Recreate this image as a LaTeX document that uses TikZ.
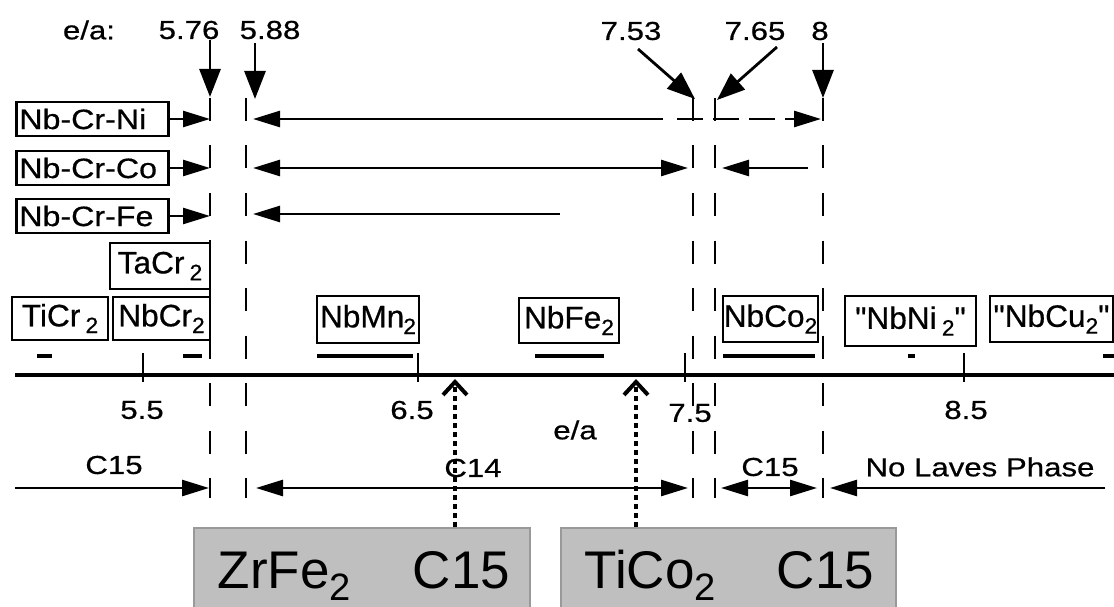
\documentclass[tikz,border=0pt]{standalone}
\usepackage{fontspec}
\setmainfont{Liberation Sans}
\newfontfamily\labfont[FakeStretch=1.2,FakeBold=0.6]{Liberation Sans}
\newfontfamily\rowfont[FakeStretch=1.15,FakeBold=0.6]{Liberation Sans}
\newfontfamily\cpdfont[FakeStretch=1.02,FakeBold=0.6]{Liberation Sans}
\usepackage{graphicx}
\usetikzlibrary{arrows.meta}
\newcommand{\subx}[1]{\raisebox{-0.22em}{\scalebox{0.72}{#1}}}
\begin{document}
\begin{tikzpicture}[x=1pt,y=-1pt,
  >={Triangle[length=27pt,width=16pt]},
  lbl/.style={font=\labfont\fontsize{26}{26}\selectfont, inner sep=0pt},
  rowbox/.style={draw, line width=2.6pt, font=\rowfont\fontsize{28}{28}\selectfont, inner xsep=3pt, inner ysep=0pt, minimum height=34pt, anchor=west},
  cpd/.style={draw, line width=2.6pt, font=\cpdfont\fontsize{31}{31}\selectfont, inner sep=0pt},
  vdash/.style={line width=2.8pt, dash pattern=on 23pt off 24.5pt},
  shaft/.style={line width=2.6pt},
  bigarrow/.style={line width=2.8pt, -{Triangle[length=28pt,width=21pt]}},
  bar/.style={line width=4.5pt},
  dotx/.style={line width=4pt, dash pattern=on 5pt off 4pt, -{Straight Barb[length=13pt,width=24pt]}},
  graybox/.style={fill=black!25, draw=black!40, line width=1.5pt, font=\fontsize{53}{53}\selectfont, text height=38pt, text depth=12pt, inner xsep=24pt, inner ysep=23pt, anchor=north west}
]
\useasboundingbox (0,0) rectangle (1114,607);
\clip (0,0) rectangle (1114,607);

% dashed vertical lines
\coordinate (L1) at (210,0);
\coordinate (L2) at (246,0);
\coordinate (L3) at (693,0);
\coordinate (L4) at (715,0);
\coordinate (L5) at (823,0);
\draw[vdash] (210,98) -- (210,498);
\draw[vdash] (246,98) -- (246,498);
\draw[vdash] (693,98) -- (693,498);
\draw[vdash] (715,98) -- (715,498);
\draw[vdash] (823,98) -- (823,498);
\draw[line width=2.8pt] (210,240) -- (210,358);

% top labels and arrows
\node[lbl] (ea) at (89,30) {e/a:};
\node[lbl] (t576) at (189,30) {5.76};
\node[lbl] (t588) at (270,30) {5.88};
\node[lbl] (t753) at (631,31) {7.53};
\node[lbl] (t765) at (755,31) {7.65};
\node[lbl] (t8) at (820,31) {8};
\coordinate (a1s) at (210,40);  \coordinate (a1e) at (210,97);
\coordinate (a2s) at (255,43);  \coordinate (a2e) at (255,99);
\coordinate (a3s) at (638,49);  \coordinate (a3e) at (695,99);
\coordinate (a4s) at (777,47);  \coordinate (a4e) at (717,100);
\coordinate (a5s) at (823,43);  \coordinate (a5e) at (823,98);
\draw[bigarrow] (a1s) -- (a1e);
\draw[bigarrow] (a2s) -- (a2e);
\draw[bigarrow] (a3s) -- (a3e);
\draw[bigarrow] (a4s) -- (a4e);
\draw[bigarrow] (a5s) -- (a5e);

% row labels
\node[rowbox] (ni) at (15,119) {\makebox[146pt][l]{Nb-Cr-Ni}};
\node[rowbox] (co) at (15,168) {\makebox[146pt][l]{Nb-Cr-Co}};
\node[rowbox] (fe) at (15,216) {\makebox[146pt][l]{Nb-Cr-Fe}};
\draw[shaft,->] (ni.east) -- (L1 |- ni.east);
\draw[shaft,->] (co.east) -- (L1 |- co.east);
\draw[shaft,->] (fe.east) -- (L1 |- fe.east);

% row ranges
\coordinate (niA) at (253,119); \coordinate (niB) at (663,119);
\coordinate (niC) at (677,119); \coordinate (niD) at (821,119);
\draw[shaft,<-] (niA) -- (niB);
\draw[shaft,->,dash pattern=on 26pt off 10pt] (niC) -- (niD);
\coordinate (coA) at (253,168); \coordinate (coB) at (688,168);
\coordinate (coC) at (808,168); \coordinate (coD) at (722,168);
\draw[shaft,<->] (coA) -- (coB);
\draw[shaft,->] (coC) -- (coD);
\coordinate (feA) at (253,214); \coordinate (feB) at (560,214);
\draw[shaft,<-] (feA) -- (feB);

% compounds
\node[cpd, minimum width=100pt, minimum height=46pt] (ta) at (160,266) {TaCr\,\subx{2}};
\node[cpd, minimum width=96pt, minimum height=43pt] (ti) at (60,318.5) {TiCr\,\subx{2}};
\node[cpd, minimum width=97pt, minimum height=43pt] (nbcr) at (161.5,318.5) {NbCr\subx{2}};
\node[cpd, minimum width=102pt, minimum height=47pt] (mn) at (368,319.5) {NbMn\hspace{-1pt}\subx{2}};
\node[cpd, minimum width=100pt, minimum height=45pt] (nbfe) at (569,320.5) {NbFe\subx{2}};
\node[cpd, minimum width=95pt, minimum height=46pt] (nbco) at (770.5,319) {NbCo\subx{2}};
\node[cpd, minimum width=131pt, minimum height=50pt] (nbni) at (910.5,321) {"NbNi\,\subx{2}"};
\node[cpd, minimum width=123pt, minimum height=46pt] (nbcu) at (1051.5,319) {"NbCu\subx{2}"};

% ranges bars
\draw[bar] (37,356) -- (52,356);
\draw[bar] (183,356) -- (202,356);
\draw[bar] (317,356) -- (413,356);
\draw[bar] (535,356) -- (604,356);
\draw[bar] (723,356) -- (815,356);
\draw[bar] (908,356) -- (915,356);
\draw[bar] (1103,356) -- (1114,356);

% axis
\draw[line width=3.8pt] (15,375) -- (1114,375);
\foreach \tx in {143,418,685,964} \draw[line width=2.6pt] (\tx,353) -- (\tx,382);
\node[lbl] (x55) at (142,410) {5.5};
\node[lbl] (x65) at (412,410) {6.5};
\node[lbl] (x75) at (690,413) {7.5};
\node[lbl] (x85) at (966,410) {8.5};
\node[lbl] (xea) at (575,430) {e/a};

% bottom phase ranges
\node[lbl] (c15a) at (114,465) {C15};
\node[lbl] (c14) at (473,468) {C14};
\node[lbl] (c15b) at (770,467) {C15};
\node[lbl] (nolaves) at (980,467) {No Laves Phase};
\coordinate (bA) at (15,488); \coordinate (bB) at (209,488);
\coordinate (bC) at (256,488); \coordinate (bD) at (688,488);
\coordinate (bE) at (721,488); \coordinate (bF) at (817,488);
\coordinate (bG) at (1105,488); \coordinate (bH) at (830,488);
\draw[shaft,->] (bA) -- (bB);
\draw[shaft,<->] (bC) -- (bD);
\draw[shaft,<->] (bE) -- (bF);
\draw[shaft,->] (bG) -- (bH);

% gray boxes
\node[graybox] (zr) at (193,527) {\makebox[288pt][l]{ZrFe\subx{2}\hspace{62pt}C15}};
\node[graybox] (tico) at (560,527) {\makebox[287pt][l]{TiCo\subx{2}\hspace{61pt}C15}};
\coordinate (p1) at (455,379);
\coordinate (p2) at (636,379);
\draw[dotx] (zr.north -| p1) -- (p1);
\draw[dotx] (tico.north -| p2) -- (p2);
\end{tikzpicture}
\end{document}
